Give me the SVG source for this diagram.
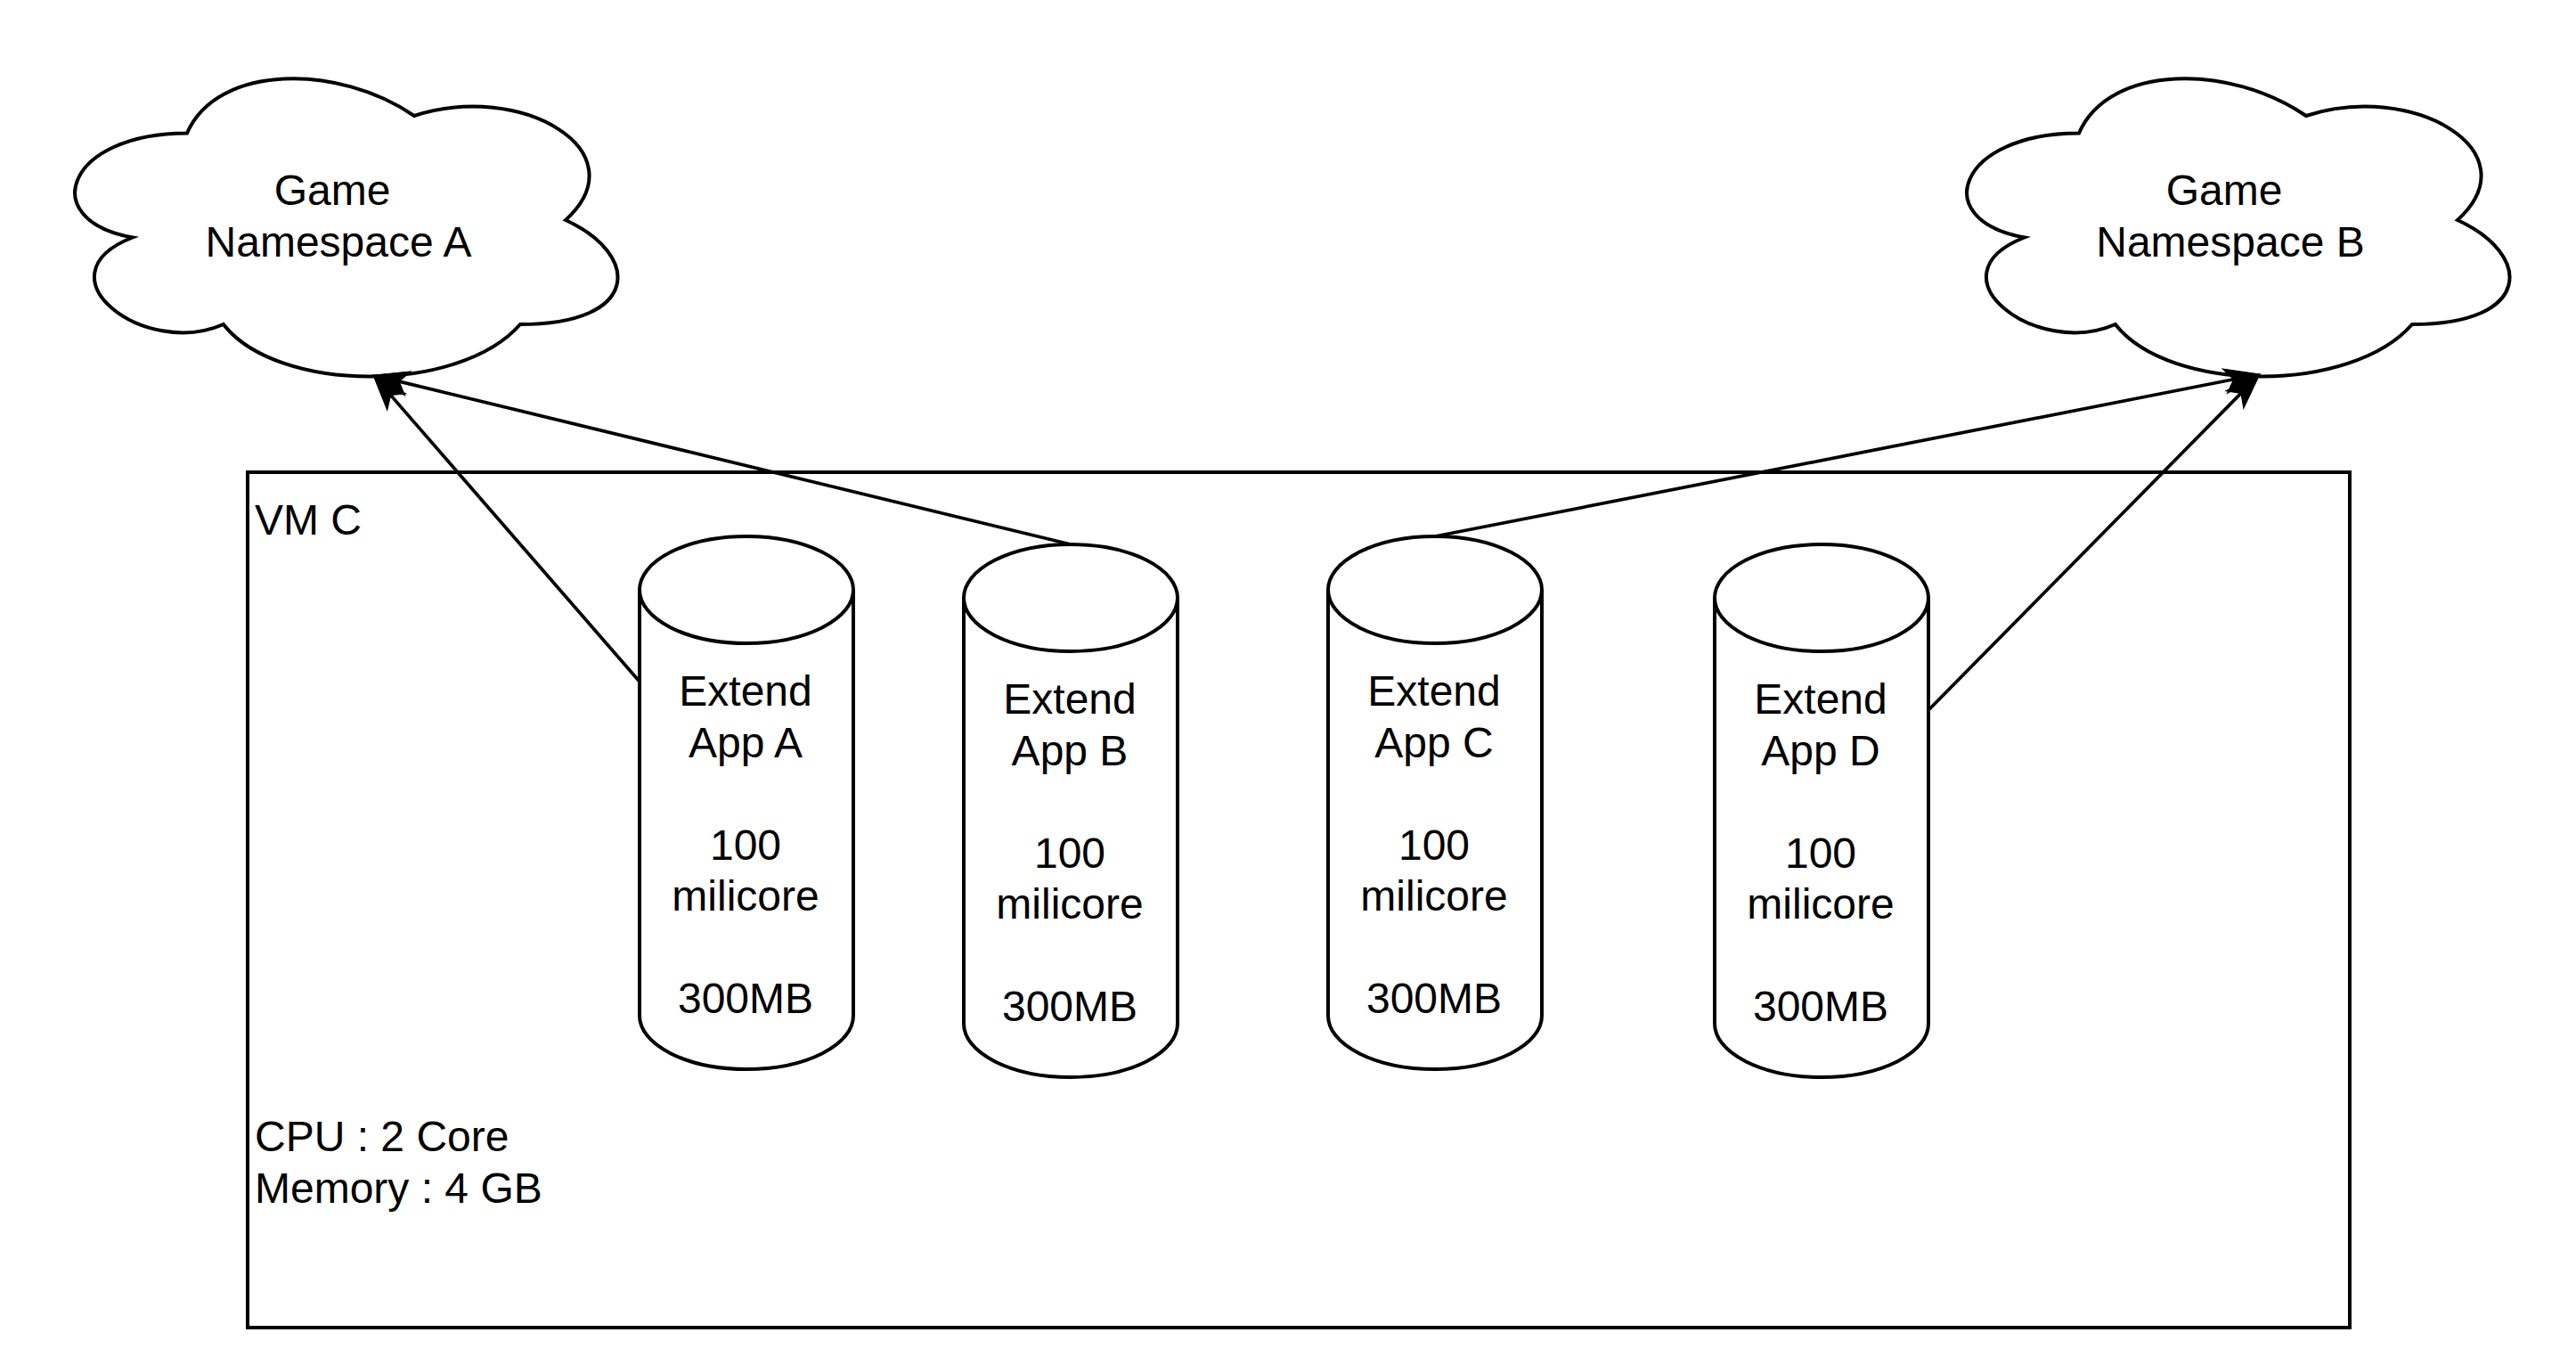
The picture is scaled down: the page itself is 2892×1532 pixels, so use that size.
<svg xmlns="http://www.w3.org/2000/svg" xmlns:xlink="http://www.w3.org/1999/xlink" width="2892" height="1532" viewBox="0 0 2892 1532">
<style>
.shape{fill:#ffffff;stroke:#000000;stroke-width:4}
.lbl{font-family:"Liberation Sans",Arial,Helvetica,sans-serif;font-size:48px;fill:#000000}
.c{text-anchor:middle}
.edge{fill:none;stroke:#000000;stroke-width:3.7}
</style>
<defs>
<path id="cloudShape" d="M170,97.5 C34,97.5 0,195 108.8,214.5 C0,257.4 122.4,351 210.8,312 C272,390 476,390 544,312 C680,312 680,234 595,195 C680,117 544,39 425,78 C340,19.5 204,19.5 170,97.5 Z"/>
<path id="cylShape" d="M0,60 A120,60 0 0 1 240,60 L240,538 A120,60 0 0 1 0,538 Z M0,60 A120,60 0 0 0 240,60"/>
<marker id="arrow" markerUnits="userSpaceOnUse" markerWidth="40" markerHeight="28" refX="10" refY="14" orient="auto" overflow="visible">
<path d="M40,14 L0,0 L10,14 L0,28 Z" fill="#000000" stroke="#000000" stroke-width="1"/>
</marker>
</defs>
<rect width="2892" height="1532" fill="#ffffff"/>

<g id="vm-c">
<rect class="shape" x="278" y="530" width="2360" height="960"/>
<text class="lbl" x="286" y="600">VM C</text>
<text class="lbl" x="286" y="1292">CPU : 2 Core</text>
<text class="lbl" x="286" y="1350">Memory : 4 GB</text>
</g>

<g id="game-namespace-a">
<use xlink:href="#cloudShape" class="shape" transform="translate(40,52)"/>
<text class="lbl c" x="373" y="230">Game</text>
<text class="lbl c" x="380" y="288">Namespace A</text>
</g>

<g id="game-namespace-b">
<use xlink:href="#cloudShape" class="shape" transform="translate(2164,52)"/>
<text class="lbl c" x="2497" y="230">Game</text>
<text class="lbl c" x="2504" y="288">Namespace B</text>
</g>

<g id="extend-app-a">
<use xlink:href="#cylShape" class="shape" transform="translate(718,602)"/>
<text class="lbl c" x="837" y="792">Extend</text>
<text class="lbl c" x="837" y="850">App A</text>
<text class="lbl c" x="837" y="965">100</text>
<text class="lbl c" x="837" y="1022">milicore</text>
<text class="lbl c" x="837" y="1137">300MB</text>
</g>

<g id="extend-app-b">
<use xlink:href="#cylShape" class="shape" transform="translate(1082,611)"/>
<text class="lbl c" x="1201" y="801">Extend</text>
<text class="lbl c" x="1201" y="859">App B</text>
<text class="lbl c" x="1201" y="974">100</text>
<text class="lbl c" x="1201" y="1031">milicore</text>
<text class="lbl c" x="1201" y="1146">300MB</text>
</g>

<g id="extend-app-c">
<use xlink:href="#cylShape" class="shape" transform="translate(1491,602)"/>
<text class="lbl c" x="1610" y="792">Extend</text>
<text class="lbl c" x="1610" y="850">App C</text>
<text class="lbl c" x="1610" y="965">100</text>
<text class="lbl c" x="1610" y="1022">milicore</text>
<text class="lbl c" x="1610" y="1137">300MB</text>
</g>

<g id="extend-app-d">
<use xlink:href="#cylShape" class="shape" transform="translate(1925,611)"/>
<text class="lbl c" x="2044" y="801">Extend</text>
<text class="lbl c" x="2044" y="859">App D</text>
<text class="lbl c" x="2044" y="974">100</text>
<text class="lbl c" x="2044" y="1031">milicore</text>
<text class="lbl c" x="2044" y="1146">300MB</text>
</g>

<g id="connectors">
<line class="edge" x1="718" y1="765" x2="438.7" y2="443.6" marker-end="url(#arrow)"/>
<line class="edge" x1="1202" y1="611" x2="448.2" y2="428.1" marker-end="url(#arrow)"/>
<line class="edge" x1="1611" y1="602" x2="2507.6" y2="425.8" marker-end="url(#arrow)"/>
<line class="edge" x1="2165" y1="797" x2="2515.9" y2="441.4" marker-end="url(#arrow)"/>
</g>
</svg>
